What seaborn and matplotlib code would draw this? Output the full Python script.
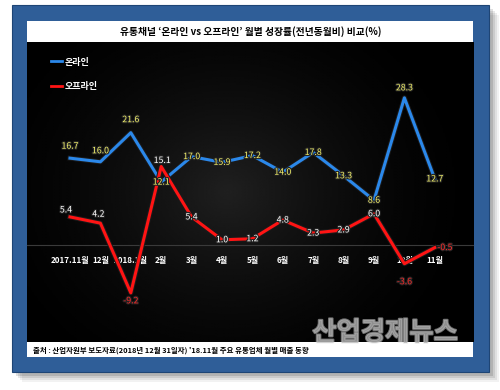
import numpy as np
import pandas as pd
import seaborn as sns
import matplotlib.pyplot as plt
import matplotlib.patches as mpatches
import matplotlib.patheffects as pe
from matplotlib.lines import Line2D

months = ['2017.11월', '12월', '2018.1월', '2월', '3월', '4월', '5월', '6월', '7월', '8월', '9월', '10월', '11월']
online = [16.7, 16.0, 21.6, 12.1, 17.0, 15.9, 17.2, 14.0, 17.8, 13.3, 8.6, 28.3, 12.7]
offline = [5.4, 4.2, -9.2, 15.1, 5.4, 1.0, 1.2, 4.8, 2.3, 2.9, 6.0, -3.6, -0.5]
series = ['온라인', '오프라인']

title = "유통채널 ‘온라인 vs 오프라인’ 월별 성장률(전년동월비) 비교(%)"
source = "출처 : 산업자원부 보도자료(2018년 12월 31일자) '18.11월 주요 유통업체 월별 매출 동향"
watermark = '산업경제뉴스'

# label offsets in pixels (style only)
on_off = [(0, 12), (0, 11), (0, 13), (0, 0), (0, 0), (0, 0), (0, 0), (0, 0), (0, 0), (0, 0), (0, 0), (0, 10), (0, 0)]
off_off = [(-4, 7), (-2, 9), (0, -8), (1, 6), (0, 0), (0, 0), (0, 0), (0, 0), (0, 0), (0, 0), (0, 0), (0, -18), (10, 0)]

W, H = 500, 390
plt.rcParams['font.family'] = ['Noto Sans CJK KR', 'DejaVu Sans']


def box(x0, y0, x1, y1):
    # pixel box with top-left origin -> figure fraction rect
    return [x0 / W, 1 - y1 / H, (x1 - x0) / W, (y1 - y0) / H]


def rect(fig, x0, y0, x1, y1, **kw):
    l, b, w, h = box(x0, y0, x1, y1)
    fig.add_artist(mpatches.Rectangle((l, b), w, h, transform=fig.transFigure, zorder=-5, **kw))


fig = plt.figure(figsize=(W / 100, H / 100), dpi=100)
fig.patch.set_facecolor('white')

# drop shadow + blue frame
for i, a in enumerate([0.05, 0.07, 0.09, 0.12]):
    d = 10 - 2 * i
    rect(fig, 12 + d, 5 + d, 489 + d, 372 + d, facecolor='black', alpha=a, lw=0)
rect(fig, 12, 5, 489, 372, facecolor='#2f5e98', edgecolor='#1e4575', lw=0.8)
rect(fig, 27, 21, 473, 42, facecolor='white', lw=0)
rect(fig, 27, 342, 473, 357, facecolor='white', lw=0)

fig.text(251 / W, 1 - 32 / H, title, ha='center', va='center', fontsize=7.0,
         fontweight='bold', color='black')
fig.text(33 / W, 1 - 350 / H, source, ha='left', va='center', fontsize=5.35,
         fontweight='bold', color='black')

ax = fig.add_axes(box(27, 42, 473, 342))
ax.set_facecolor('black')

# subtle radial glow in the background
xx, yy = np.meshgrid(np.linspace(0, 1, 300), np.linspace(0, 1, 200))
r = np.sqrt(((xx - 0.45) * 1.3) ** 2 + (yy - 0.5) ** 2)
glow = np.clip(1 - r / 0.75, 0, 1) ** 1.6
ax.imshow(glow, cmap='gray', vmin=0, vmax=8, extent=(0, 1, 0, 1), origin='lower',
          transform=ax.transAxes, aspect='auto', zorder=0)

n = len(months)
df = pd.DataFrame({
    'idx': list(range(n)) * 2,
    'rate': online + offline,
    'channel': [series[0]] * n + [series[1]] * n,
})
colors = ['#2b88ea', '#ff1414']
sns.lineplot(data=df, x='idx', y='rate', hue='channel', hue_order=series, palette=colors,
             lw=2.2, sort=False, legend=False, ax=ax, zorder=3,
             path_effects=[pe.Stroke(linewidth=3.6, foreground='#1a1a1a'), pe.Normal()])

ax.set_xlim((27 - 70) / 30.4, (473 - 70) / 30.4)
ax.set_ylim((245 - 342) / 5.2, (245 - 42) / 5.2)

outline = [pe.withStroke(linewidth=1.6, foreground='#222222')]
for i, v in enumerate(online):
    ax.annotate(f'{v:.1f}', (i, v), xytext=on_off[i], textcoords='offset pixels',
                ha='center', va='center', fontsize=6.3, color='#f7f56c', zorder=5,
                path_effects=outline)
for i, v in enumerate(offline):
    ax.annotate(f'{v:.1f}', (i, v), xytext=off_off[i], textcoords='offset pixels',
                ha='center', va='center', fontsize=6.3,
                color='#ff2a2a' if v < 0 else 'white', zorder=5, path_effects=outline)

# x axis drawn at zero
for s in ['top', 'right', 'left']:
    ax.spines[s].set_visible(False)
ax.spines['bottom'].set_position(('data', 0))
ax.spines['bottom'].set_color('#3a3a3a')
ax.spines['bottom'].set_linewidth(0.8)
ax.set_yticks([])
ax.set_xticks(range(n))
ax.set_xticklabels(months, fontsize=5.8, fontweight='bold', color='white')
ax.tick_params(axis='x', length=0, pad=8)
ax.set_xlabel('')
ax.set_ylabel('')

handles = [Line2D([], [], color=c, lw=2) for c in colors]
leg = ax.legend(handles, series, loc='upper left', bbox_to_anchor=(0.035, 0.975),
                frameon=False, labelspacing=1.75, handlelength=1.3, handletextpad=0.2,
                prop={'size': 6.5, 'weight': 'bold'})
for t in leg.get_texts():
    t.set_color('white')

fig.text(385 / W, 1 - 333 / H, watermark, ha='center', va='center', fontsize=19,
         fontweight='bold', color='#a8a8a8', alpha=0.7, zorder=10,
         path_effects=[pe.withStroke(linewidth=1.5, foreground='#dddddd', alpha=0.5)])

fig.savefig('out.png', dpi=100)
